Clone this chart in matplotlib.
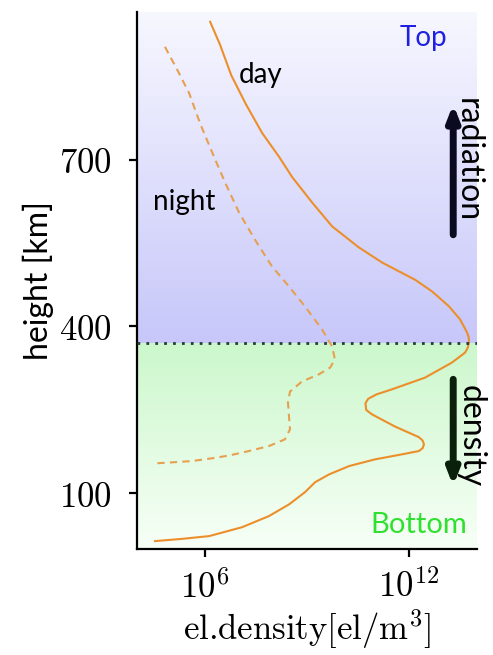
import numpy as np
import matplotlib
matplotlib.use("Agg")
from matplotlib import pyplot as plt

plt.rcParams['mathtext.fontset'] = 'cm'

# day profile: log10 density [el/m^3], height [km]
day_logn = [6.15, 6.44, 6.77, 7.20, 7.68, 8.18, 8.56, 9.15, 9.74, 10.53, 11.21, 11.71,
            12.18, 12.68, 13.18, 13.50, 13.71, 13.76, 13.76, 13.73, 13.65, 13.26, 12.47,
            11.50, 11.05, 10.80, 10.72, 10.74, 10.91, 11.59, 12.29, 12.40, 12.44, 12.40,
            12.29, 11.79, 11.00, 10.24, 9.65, 9.24, 8.94, 8.47, 7.88, 7.09, 6.12, 5.32, 4.53]
day_h = [948, 907, 852, 800, 748, 705, 669, 623, 580, 542, 515, 499,
         484, 463, 436, 413, 389, 380, 371, 362, 353, 335, 308,
         287, 278, 270, 262, 250, 242, 220, 201, 195, 188, 181,
         176, 170, 161, 149, 134, 120, 102, 80, 59, 39, 23, 18, 14]

# night profile
night_logn = [4.82, 5.18, 5.53, 5.85, 6.21, 6.59, 7.00, 7.47, 7.97, 8.47, 8.94, 9.44,
              9.74, 9.82, 9.68, 9.35, 8.85, 8.50, 8.44, 8.47, 8.50, 8.35, 7.88, 7.29,
              6.71, 6.21, 5.62, 5.12, 4.59]
night_h = [903, 862, 820, 766, 713, 659, 605, 556, 508, 472, 436, 395,
           364, 341, 326, 314, 301, 283, 264, 238, 215, 197, 185, 176,
           168, 163, 158, 156, 154]

h_split = 370          # top/bottom boundary [km]
h_max = 966
xticks = [1e6, 1e12]
xticklabels = [r'$10^{6}$', r'$10^{12}$']
yticks = [100, 400, 700]

sans = 'Lato'

fig = plt.figure(figsize=(4.93, 6.55), dpi=100)
ax = fig.add_axes([0.278, 0.162, 0.6895, 0.820])
ax.set_xscale('log')

# background gradients (vertical only)
f = h_split / h_max
n = 256
t = np.linspace(0, 1, n)[:, None, None]
top_lo = np.array([0.78, 0.78, 0.98])
top_hi = np.array([0.97, 0.97, 1.0])
top = top_hi * (1 - t) + top_lo * t
ax.imshow(top, extent=(0, 1, f, 1), transform=ax.transAxes, aspect='auto',
          origin='upper', zorder=0, interpolation='bilinear')
bot_hi = np.array([0.80, 0.97, 0.80])
bot_lo = np.array([0.97, 1.0, 0.97])
bot = bot_hi * (1 - t) + bot_lo * t
ax.imshow(bot, extent=(0, 1, 0, f), transform=ax.transAxes, aspect='auto',
          origin='upper', zorder=0, interpolation='bilinear')

ax.plot(10.0**np.array(day_logn), day_h, color='#ec8f2a', lw=1.5, zorder=2)
ax.plot(10.0**np.array(night_logn), night_h, color='#e6a050', lw=1.5,
        dashes=(3.5, 2.5), zorder=2)

ax.set_xlim(1e4, 1e14)
ax.set_ylim(0, h_max)

ax.axhline(h_split, color='#2a3a3a', lw=2, ls=(0, (1, 2.2)), zorder=4)

# labels in the plot
ax.text(4.2e7, 853, 'day', family=sans, fontsize=20, ha='center', va='center', zorder=5)
ax.text(2.4e5, 623, 'night', family=sans, fontsize=20, ha='center', va='center', zorder=5)
ax.text(2.6e12, 919, 'Top', family=sans, fontsize=20, color='#2020e0',
        ha='center', va='center', zorder=5)
ax.text(1.95e12, 43, 'Bottom', family=sans, fontsize=21, color='#30e030',
        ha='center', va='center', zorder=5)
ax.text(5.5e13, 700, 'radiation', family=sans, fontsize=23, rotation=-90,
        ha='center', va='center', zorder=5)
ax.text(6.3e13, 203, 'density', family=sans, fontsize=23, rotation=-90,
        ha='center', va='center', zorder=5)

ax.annotate('', xy=(2e13, 805), xytext=(2e13, 560),
            arrowprops=dict(arrowstyle='-|>,head_width=0.35,head_length=0.9',
                            color='#0a0a20', lw=5), zorder=5)
ax.annotate('', xy=(2e13, 108), xytext=(2e13, 310),
            arrowprops=dict(arrowstyle='-|>,head_width=0.35,head_length=0.9',
                            color='#0a200a', lw=5), zorder=5)

ax.spines['top'].set_visible(False)
ax.spines['right'].set_visible(False)
for s in ('left', 'bottom'):
    ax.spines[s].set_linewidth(1.6)

ax.set_xticks(xticks)
ax.set_xticklabels(xticklabels)
ax.xaxis.set_minor_locator(matplotlib.ticker.NullLocator())
ax.set_yticks(yticks)
ax.set_yticklabels([r'$\mathrm{%d}$' % v for v in yticks])
ax.tick_params(direction='out', length=6, width=1.6, labelsize=25)
ax.tick_params(axis='y', pad=12)
ax.tick_params(axis='x', pad=9)

ax.set_xlabel(r'el.density[el/m$^3$]', family='cmr10', fontsize=25, labelpad=2)
ax.set_ylabel('height [km]', family=sans, fontsize=23, labelpad=4)

plt.savefig('out.png', dpi=100)
